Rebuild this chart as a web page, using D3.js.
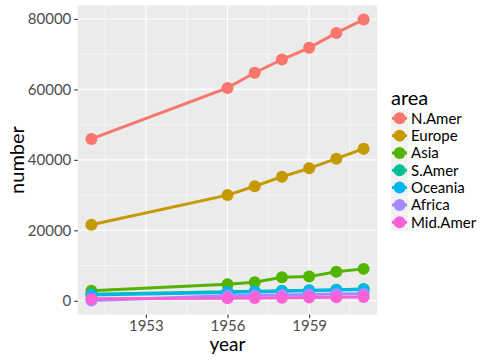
<!DOCTYPE html>
<html><head><meta charset="utf-8">
<script src="https://cdn.jsdelivr.net/npm/d3@7"></script>
<style>body{margin:0;background:#fff}svg{display:block}text{font-family:Lato,"Open Sans",sans-serif}</style>
</head><body><svg id="c" width="504" height="360"></svg>
<script>
const years = [1951, 1956, 1957, 1958, 1959, 1960, 1961];
const areas = ["N.Amer", "Europe", "Asia", "S.Amer", "Oceania", "Africa", "Mid.Amer"];
const colors = ["#F8766D", "#C49A00", "#53B400", "#00C094", "#00B6EB", "#A58AFF", "#FB61D7"];
const NAmer = [45939, 60423, 64721, 68484, 71799, 76036, 79831];
const Europe = [21574, 29990, 32510, 35218, 37598, 40341, 43173];
const Asia = [2876, 4708, 5230, 6662, 6856, 8220, 9053];
const SAmer = [1815, 2568, 2695, 2845, 3000, 3145, 3338];
const Oceania = [1646, 2366, 2526, 2691, 2868, 3054, 3224];
const Africa = [89, 1411, 1546, 1663, 1769, 1905, 2005];
const MidAmer = [555, 733, 773, 836, 911, 1008, 1076];
const seriesVals = [NAmer, Europe, Asia, SAmer, Oceania, Africa, MidAmer];
const xTicks = [1953, 1956, 1959];
const xMinor = [1951.5, 1954.5, 1957.5, 1960.5];
const yTicks = [0, 20000, 40000, 60000, 80000];
const yMinor = [10000, 30000, 50000, 70000];

const svg = d3.select("#c");
const L = 77.8, R = 377.2, T = 5.5, B = 314.5;
const x = d3.scaleLinear().domain([1950.5, 1961.5]).range([L, R]);
const yMin = 89, yMax = 79831, pad = (yMax - yMin) * 0.05;
const y = d3.scaleLinear().domain([yMin - pad, yMax + pad]).range([B, T]);

svg.append("rect").attr("x", L).attr("y", T).attr("width", R - L).attr("height", B - T).attr("fill", "#EBEBEB");
const g = svg.append("g");
g.selectAll(".xm").data(xMinor).join("line").attr("x1", d => x(d)).attr("x2", d => x(d)).attr("y1", T).attr("y2", B).attr("stroke", "#fff").attr("stroke-width", 0.55);
g.selectAll(".ym").data(yMinor).join("line").attr("y1", d => y(d)).attr("y2", d => y(d)).attr("x1", L).attr("x2", R).attr("stroke", "#fff").attr("stroke-width", 0.55);
g.selectAll(".xM").data(xTicks).join("line").attr("x1", d => x(d)).attr("x2", d => x(d)).attr("y1", T).attr("y2", B).attr("stroke", "#fff").attr("stroke-width", 1.1);
g.selectAll(".yM").data(yTicks).join("line").attr("y1", d => y(d)).attr("y2", d => y(d)).attr("x1", L).attr("x2", R).attr("stroke", "#fff").attr("stroke-width", 1.1);

// axes
const xa = svg.append("g").attr("transform", `translate(0,${B})`).call(d3.axisBottom(x).tickValues(xTicks).tickFormat(d3.format("d")).tickSize(3.5).tickPadding(2));
const ya = svg.append("g").attr("transform", `translate(${L},0)`).call(d3.axisLeft(y).tickValues(yTicks).tickFormat(d3.format("d")).tickSize(3.5).tickPadding(3));
[xa, ya].forEach(a => {
  a.select(".domain").remove();
  a.selectAll(".tick line").attr("stroke", "#333").attr("stroke-width", 1.1);
  a.selectAll(".tick text").attr("fill", "#4D4D4D").style("font-size", "15px").style("font-family", "Lato,sans-serif");
});

const line = d3.line().x((d, i) => x(years[i])).y(d => y(d));
const pg = svg.append("g");
seriesVals.forEach((vals, k) => {
  pg.append("path").datum(vals).attr("d", line).attr("fill", "none").attr("stroke", colors[k]).attr("stroke-width", 3);
});
seriesVals.forEach((vals, k) => {
  pg.selectAll(null).data(vals).join("circle").attr("cx", (d, i) => x(years[i])).attr("cy", d => y(d)).attr("r", 6).attr("fill", colors[k]);
});

svg.append("text").attr("x", (L + R) / 2).attr("y", 351).attr("text-anchor", "middle").style("font-size", "19px").attr("fill", "#000").text("year");
svg.append("text").attr("transform", `translate(24,${(T + B) / 2}) rotate(-90)`).attr("text-anchor", "middle").style("font-size", "20px").attr("fill", "#000").text("number");

// legend
const lg = svg.append("g");
lg.append("text").attr("x", 391).attr("y", 105).style("font-size", "20px").attr("fill", "#000").text("area");
areas.forEach((a, k) => {
  const cy = 118.3 + k * 17.33;
  lg.append("rect").attr("x", 391).attr("y", cy - 8.6).attr("width", 17.3).attr("height", 17.3).attr("fill", "#F2F2F2");
  lg.append("line").attr("x1", 392).attr("x2", 407).attr("y1", cy).attr("y2", cy).attr("stroke", colors[k]).attr("stroke-width", 3);
  lg.append("circle").attr("cx", 399.6).attr("cy", cy).attr("r", 6).attr("fill", colors[k]);
  lg.append("text").attr("x", 411).attr("y", cy + 5.3).style("font-size", "15px").attr("fill", "#000").text(a);
});
</script></body></html>
